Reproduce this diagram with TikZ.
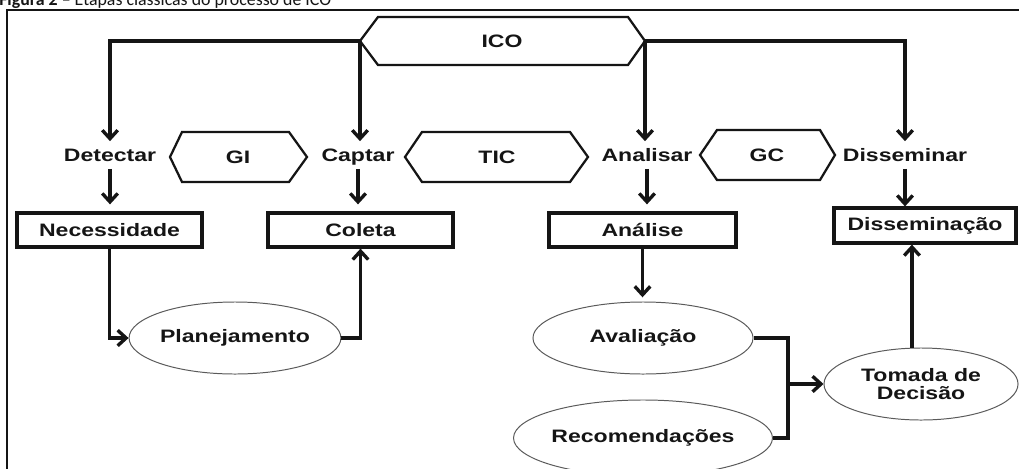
\documentclass[tikz,border=0pt]{standalone}
\usepackage{fontspec}
\newfontfamily\arialx[FakeStretch=1.28]{Liberation Sans}
\newfontfamily\calx{Carlito}
\usetikzlibrary{arrows.meta,shapes.geometric}
\definecolor{ink}{HTML}{151515}
\definecolor{ellgray}{HTML}{5A5A5A}
\begin{document}
\begin{tikzpicture}[x=0.025cm,y=-0.025cm,
  lbl/.style={font=\arialx\bfseries\fontsize{12.8pt}{14pt}\selectfont, text=ink,
              inner xsep=2pt, inner ysep=5pt, text height=9.3pt, text depth=0pt},
  boxnode/.style={draw=ink, line width=2.3pt, rectangle, inner sep=0pt,
              font=\arialx\bfseries\fontsize{12.8pt}{14pt}\selectfont, text=ink},
  ellnode/.style={draw=ellgray, line width=0.7pt, ellipse, inner sep=0pt,
              font=\arialx\bfseries\fontsize{12.8pt}{13pt}\selectfont, text=ink, align=center},
  hexa/.style={draw=ink, line width=1.6pt, line join=miter},
  conn/.style={draw=ink, line width=2.4pt, line join=miter},
  arr/.style={conn, -{Straight Barb[length=6pt,width=11pt]}},
  gap/.style={shorten >=5pt}
]
\clip (0,0) rectangle (1019,468);
\fill[white] (0,0) rectangle (1019,468);

% caption (cut off at the top, as in the reference)
\node[anchor=base west, inner sep=0pt, text=ink,
      font=\calx\fontsize{12.7pt}{14pt}\selectfont] (cap) at (-1,5.5)
      {\textbf{Figura 2} – Etapas clássicas do processo de ICO};

% frame
\draw[ink, line width=1.6pt] (7,490) -- (7,10) -- (1040,10);

% hexagons
\draw[hexa] (360,41) -- (378,17) -- (628,17) -- (645,41) -- (628,65) -- (378,65) -- cycle;
\node[lbl] (ico) at (502,41) {ICO};
\coordinate (icoL) at (360,41);
\coordinate (icoR) at (645,41);

\draw[hexa] (170,157) -- (182,132) -- (289,132) -- (307,157) -- (289,182) -- (182,182) -- cycle;
\node[lbl] (gi) at (238,157) {GI};
\draw[hexa] (405,157) -- (422,132) -- (570,132) -- (588,157) -- (570,182) -- (422,182) -- cycle;
\node[lbl] (tic) at (497,157) {TIC};
\draw[hexa] (700,155) -- (717,130) -- (820,130) -- (835,155) -- (820,180) -- (717,180) -- cycle;
\node[lbl] (gc) at (767,155) {GC};

% stage labels
\node[lbl] (detectar) at (110,155) {Detectar};
\node[lbl] (captar) at (358,155) {Captar};
\node[lbl] (analisar) at (647,155) {Analisar};
\node[lbl] (disseminar) at (905,155) {Disseminar};

% boxes
\node[boxnode, minimum width=4.625cm, minimum height=0.85cm] (necess) at (109.5,230) {Necessidade};
\node[boxnode, minimum width=4.625cm, minimum height=0.85cm] (coleta) at (360.5,230) {Coleta};
\node[boxnode, minimum width=4.675cm, minimum height=0.85cm] (analise) at (642.5,230) {Análise};
\node[boxnode, minimum width=4.55cm, minimum height=0.875cm] (dissem) at (925,225.5) {Disseminação};

% ellipses
\node[ellnode, minimum width=4.85cm, minimum height=1.8cm] (plan) at (235,338) {Planejamento};
\node[ellnode, minimum width=5.5cm, minimum height=1.8cm] (aval) at (643,338) {Avaliação};
\node[ellnode, minimum width=5.5cm, minimum height=1.9cm] (recom) at (643,438) {Recomendações};
\node[ellnode, minimum width=4.85cm, minimum height=1.8cm] (tomada) at (921,384) {Tomada de\\Decisão};

% connectors from ICO
\draw[arr] (icoL) -| (detectar.north);
\draw[arr] (icoL) -- (icoL |- captar.north);
\draw[arr] (icoR) -| (disseminar.north);
\draw[arr] (icoR) -- (icoR |- analisar.north);

% labels to boxes
\draw[arr, gap] (detectar.south) -- (detectar.south |- necess.north);
\draw[arr, gap] (captar.south) -- (captar.south |- coleta.north);
\draw[arr, gap] (analisar.south) -- (analisar.south |- analise.north);
\draw[arr] (disseminar.south) -- (disseminar.south |- dissem.north);

% lower flow
\draw[arr] (necess.south) |- (plan.west);
\draw[arr] (plan.east) -| (coleta.south);
\draw[arr, shorten >=3pt] (analise.south) -- (analise.south |- aval.north);
\coordinate (merge) at (788,384);
\draw[conn] (aval.east) -| (merge);
\draw[conn] (recom.east) -| (merge);
\draw[arr] (merge) -- (tomada.west);
\draw[arr] (tomada.104) -- (tomada.104 |- dissem.south);
\end{tikzpicture}
\end{document}
